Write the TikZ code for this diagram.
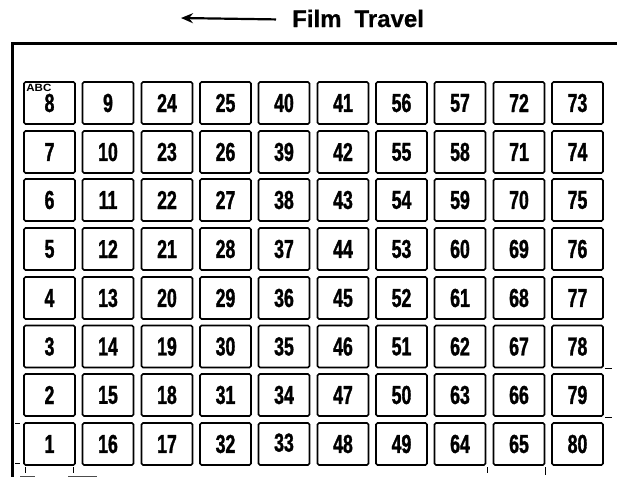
\documentclass[tikz,border=0pt]{standalone}
\usepackage{fontspec}
\setmainfont{Liberation Sans}
\newfontfamily\numfont[FakeStretch=0.68, FakeBold=1.2]{Liberation Sans Bold}
\newfontfamily\abcfont[FakeStretch=1.1]{Liberation Sans Bold}
\newfontfamily\titlefont[FakeBold=0.6]{Liberation Sans Bold}
\usetikzlibrary{arrows.meta, positioning}

\begin{document}
\begin{tikzpicture}[x=1pt, y=-1pt,
    cellbox/.style={draw, line width=1.6pt, rounded corners=1.5pt, minimum width=51pt, minimum height=42pt, inner sep=0pt, font=\numfont\fontsize{26}{26}\selectfont},
    tick/.style={line width=1pt},
    faint/.style={line width=0.6pt, black!70}]
    \useasboundingbox (0, 0) rectangle (617, 477);

    % title
    \node[anchor=base west, inner sep=0pt, font=\titlefont\fontsize{24}{24}\selectfont] (travel) at (292, 27) {Film\hspace{13pt}Travel};
    \coordinate (arrowend) at (181, 18);
    \draw[line width=2.2pt, -{Stealth[length=12pt, width=10pt]}] ([xshift=-16pt, yshift=-1pt]travel.west) -- (arrowend);

    % frame
    \draw[line width=3pt] (617, 43) -- (12, 43) -- (12, 477);

    % column 1
    \node[cellbox] (n8) at (49.5, 103) {\raisebox{-7.5pt}{8}};
    \node[cellbox] (n7) at (49.5, 152) {7};
    \node[cellbox] (n6) at (49.5, 200) {6};
    \node[cellbox] (n5) at (49.5, 249) {5};
    \node[cellbox] (n4) at (49.5, 298) {4};
    \node[cellbox] (n3) at (49.5, 346.5) {3};
    \node[cellbox] (n2) at (49.5, 395) {2};
    \node[cellbox] (n1) at (49.5, 444) {1};
    \node[anchor=north west, inner sep=0pt, font=\abcfont\fontsize{10.5}{10.5}\selectfont] (abc) at ([xshift=3pt, yshift=-3pt]n8.north west) {ABC};
    % column 2
    \node[cellbox] (n9) at (108, 103) {9};
    \node[cellbox] (n10) at (108, 152) {10};
    \node[cellbox] (n11) at (108, 200) {11};
    \node[cellbox] (n12) at (108, 249) {12};
    \node[cellbox] (n13) at (108, 298) {13};
    \node[cellbox] (n14) at (108, 346.5) {14};
    \node[cellbox] (n15) at (108, 395) {15};
    \node[cellbox] (n16) at (108, 444) {16};
    % column 3
    \node[cellbox] (n24) at (167, 103) {24};
    \node[cellbox] (n23) at (167, 152) {23};
    \node[cellbox] (n22) at (167, 200) {22};
    \node[cellbox] (n21) at (167, 249) {21};
    \node[cellbox] (n20) at (167, 298) {20};
    \node[cellbox] (n19) at (167, 346.5) {19};
    \node[cellbox] (n18) at (167, 395) {18};
    \node[cellbox] (n17) at (167, 444) {17};
    % column 4
    \node[cellbox] (n25) at (225.5, 103) {25};
    \node[cellbox] (n26) at (225.5, 152) {26};
    \node[cellbox] (n27) at (225.5, 200) {27};
    \node[cellbox] (n28) at (225.5, 249) {28};
    \node[cellbox] (n29) at (225.5, 298) {29};
    \node[cellbox] (n30) at (225.5, 346.5) {30};
    \node[cellbox] (n31) at (225.5, 395) {31};
    \node[cellbox] (n32) at (225.5, 444) {32};
    % column 5
    \node[cellbox] (n40) at (284, 103) {40};
    \node[cellbox] (n39) at (284, 152) {39};
    \node[cellbox] (n38) at (284, 200) {38};
    \node[cellbox] (n37) at (284, 249) {37};
    \node[cellbox] (n36) at (284, 298) {36};
    \node[cellbox] (n35) at (284, 346.5) {35};
    \node[cellbox] (n34) at (284, 395) {34};
    \node[cellbox] (n33) at (284, 444) {\raisebox{3pt}{33}};
    % column 6
    \node[cellbox] (n41) at (343, 103) {41};
    \node[cellbox] (n42) at (343, 152) {42};
    \node[cellbox] (n43) at (343, 200) {43};
    \node[cellbox] (n44) at (343, 249) {44};
    \node[cellbox] (n45) at (343, 298) {45};
    \node[cellbox] (n46) at (343, 346.5) {46};
    \node[cellbox] (n47) at (343, 395) {47};
    \node[cellbox] (n48) at (343, 444) {48};
    % column 7
    \node[cellbox] (n56) at (401.5, 103) {56};
    \node[cellbox] (n55) at (401.5, 152) {55};
    \node[cellbox] (n54) at (401.5, 200) {54};
    \node[cellbox] (n53) at (401.5, 249) {53};
    \node[cellbox] (n52) at (401.5, 298) {52};
    \node[cellbox] (n51) at (401.5, 346.5) {51};
    \node[cellbox] (n50) at (401.5, 395) {50};
    \node[cellbox] (n49) at (401.5, 444) {49};
    % column 8
    \node[cellbox] (n57) at (460, 103) {57};
    \node[cellbox] (n58) at (460, 152) {58};
    \node[cellbox] (n59) at (460, 200) {59};
    \node[cellbox] (n60) at (460, 249) {60};
    \node[cellbox] (n61) at (460, 298) {61};
    \node[cellbox] (n62) at (460, 346.5) {62};
    \node[cellbox] (n63) at (460, 395) {63};
    \node[cellbox] (n64) at (460, 444) {64};
    % column 9
    \node[cellbox] (n72) at (519, 103) {72};
    \node[cellbox] (n71) at (519, 152) {71};
    \node[cellbox] (n70) at (519, 200) {70};
    \node[cellbox] (n69) at (519, 249) {69};
    \node[cellbox] (n68) at (519, 298) {68};
    \node[cellbox] (n67) at (519, 346.5) {67};
    \node[cellbox] (n66) at (519, 395) {66};
    \node[cellbox] (n65) at (519, 444) {65};
    % column 10
    \node[cellbox] (n73) at (577.5, 103) {73};
    \node[cellbox] (n74) at (577.5, 152) {74};
    \node[cellbox] (n75) at (577.5, 200) {75};
    \node[cellbox] (n76) at (577.5, 249) {76};
    \node[cellbox] (n77) at (577.5, 298) {77};
    \node[cellbox] (n78) at (577.5, 346.5) {78};
    \node[cellbox] (n79) at (577.5, 395) {79};
    \node[cellbox] (n80) at (577.5, 444) {80};

    % small marks
    \draw[tick] (15, 423) -- (20, 423);
    \draw[tick] (15, 463) -- (20, 463);
    \draw[tick] (605, 368) -- (612, 368);
    \draw[tick] (605, 417) -- (612, 417);
    \draw[tick] (25, 467) -- (25, 473);
    \draw[tick] (73, 467) -- (73, 473);
    \draw[tick] (487, 467) -- (487, 473);
    \draw[tick] (545, 467) -- (545, 475);
    \draw[faint] (20, 476) -- (35, 476);
    \draw[faint] (68, 476) -- (97, 476);
\end{tikzpicture}
\end{document}
